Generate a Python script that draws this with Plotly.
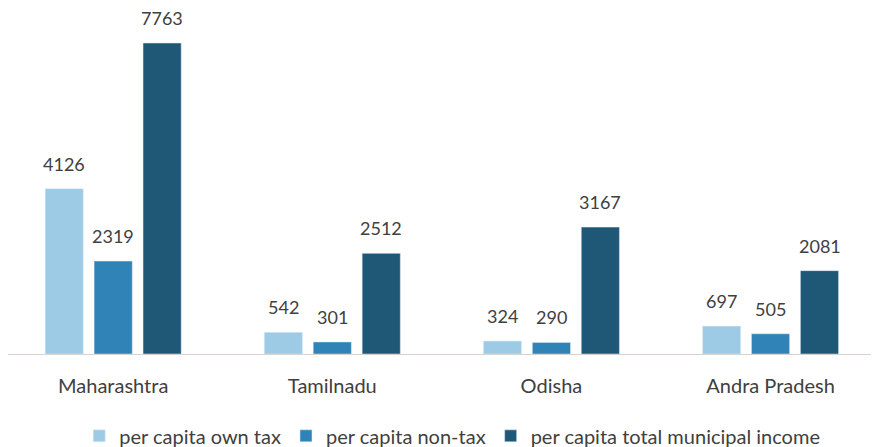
import plotly.graph_objects as go

# category labels and series values
states = ["Maharashtra", "Tamilnadu", "Odisha", "Andra Pradesh"]
own_tax = [4126, 542, 324, 697]
non_tax = [2319, 301, 290, 505]
total_income = [7763, 2512, 3167, 2081]

series_names = ["per capita own tax", "per capita non-tax", "per capita total municipal income"]
colors = ["#9dcbe5", "#2f83b6", "#1f5877"]
label_shift = [-49, 0, 49]  # px offset of each bar inside its group

fig = go.Figure()
for name, vals, col in zip(series_names, [own_tax, non_tax, total_income], colors):
    fig.add_trace(go.Bar(x=states, y=vals, name=name, marker_color=col))

# value labels above the bars
for vals, dx in zip([own_tax, non_tax, total_income], label_shift):
    for s, v in zip(states, vals):
        fig.add_annotation(x=s, y=v, text=str(v), showarrow=False,
                           xshift=dx, yshift=12, yanchor="bottom",
                           font=dict(size=18, family="Lato", color="#404040"))

# page body has an 8px margin, so the figure is sized to the visible area
fig.update_layout(
    width=871, height=439,
    margin=dict(l=0, r=0, t=12, b=93, autoexpand=False),
    paper_bgcolor="white", plot_bgcolor="white",
    barmode="group", bargap=0.33, bargroupgap=0.22,
    font=dict(family="Lato", color="#404040"),
    showlegend=True,
    legend=dict(orientation="h", x=0.51, xanchor="center", y=-0.245, yanchor="middle",
                font=dict(size=20, family="Lato", color="#404040"),
                itemwidth=30, tracegroupgap=0),
)
fig.update_xaxes(range=[-0.48, 3.495], showline=True, linecolor="#d6d2ce", linewidth=1,
                 ticks="outside", ticklen=14, tickcolor="rgba(0,0,0,0)",
                 tickfont=dict(size=20, family="Lato", color="#404040"),
                 showgrid=False)
fig.update_yaxes(range=[0, 8337], visible=False, showgrid=False, zeroline=False)

fig.write_html("out.html")
